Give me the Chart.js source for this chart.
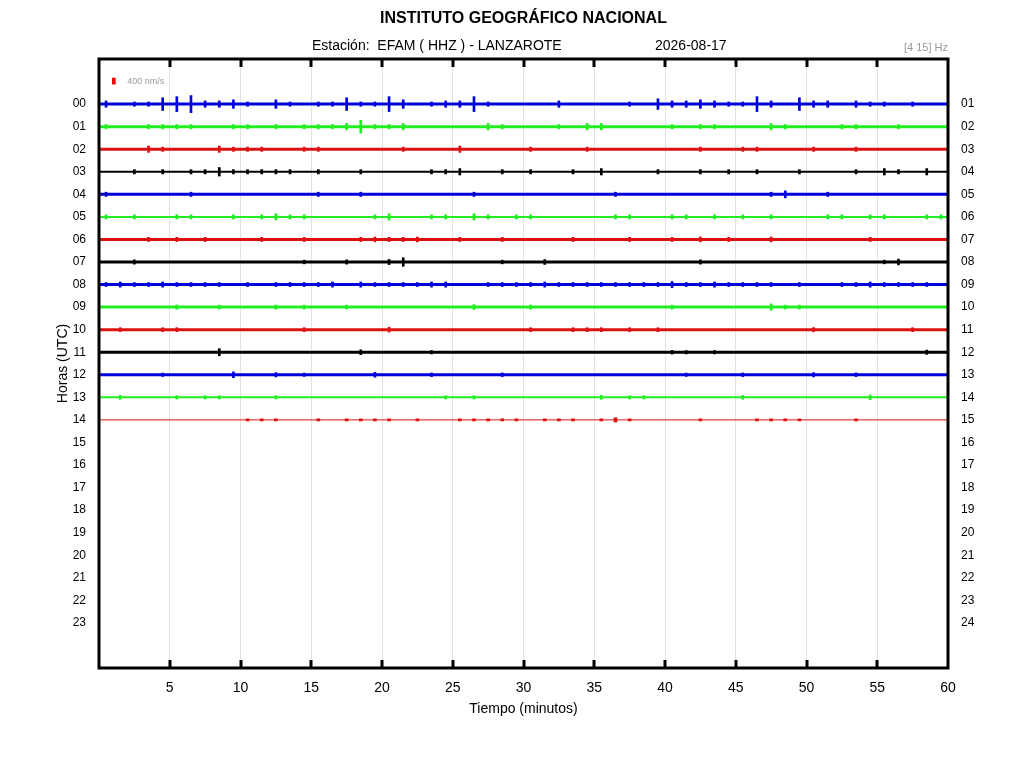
<!DOCTYPE html>
<html lang="es">
<head>
  <meta charset="UTF-8" />
  <title>Helicorder EFAM - Lanzarote</title>
  <script src="https://cdn.jsdelivr.net/npm/chart.js"></script>
  <style>
    html, body { margin: 0; padding: 0; background: #fff; }
    #wrap { width: 1024px; height: 768px; }
  </style>
</head>
<body>
  <div id="wrap"><canvas id="heli" width="1024" height="768"></canvas></div>

  <script>
    // hour labels, left and right side of the drum
    const leftLabels = ['00','01','02','03','04','05','06','07','08','09','10','11',
                        '12','13','14','15','16','17','18','19','20','21','22','23'];
    const rightLabels = ['01','02','03','04','05','06','07','08','09','10','11','12',
                         '13','14','15','16','17','18','19','20','21','22','23','24'];
    const minuteTicks = [5, 10, 15, 20, 25, 30, 35, 40, 45, 50, 55, 60];

    // peak amplitude per minute (nm/s), one array per hour line
    const amp00 = [210,100,140,140,420,490,560,210,210,280,140,100,280,140,100,140,140,420,140,140,490,280,100,140,210,210,490,140,100,100,
                   100,100,210,100,100,100,100,140,100,350,210,210,280,210,140,140,490,210,100,420,210,210,100,210,140,140,100,140,100,100];
    const amp01 = [140,100,100,140,140,140,140,100,100,140,140,100,140,100,140,140,140,210,420,140,140,210,100,100,100,100,100,210,140,100,
                   100,100,140,100,210,210,100,100,100,100,140,100,140,140,100,100,100,210,140,100,100,100,140,140,100,100,140,100,100,100];
    const amp02 = [100,100,100,210,140,100,100,100,210,140,140,140,100,100,140,140,100,100,100,100,100,140,100,100,100,210,100,100,100,100,
                   140,100,100,100,140,100,100,100,100,100,100,100,140,100,100,140,140,100,100,100,140,100,100,140,100,100,100,100,100,100];
    const amp03 = [0,0,140,0,140,0,140,140,280,140,140,140,140,140,0,140,0,0,140,0,0,0,0,140,140,210,0,0,140,0,
                   140,0,0,140,0,210,0,0,0,140,0,0,140,0,140,0,140,0,0,140,0,0,0,140,0,210,140,0,210,0];
    const amp04 = [140,100,100,100,100,100,140,100,100,100,100,100,100,100,100,140,100,100,140,100,100,100,100,100,100,100,140,100,100,100,
                   100,100,100,100,100,100,140,100,100,100,100,100,100,100,100,100,100,140,230,100,100,140,100,100,100,100,100,100,100,100];
    const amp05 = [140,0,140,0,0,140,140,0,0,140,0,140,210,140,140,0,0,0,0,140,210,0,0,140,140,0,210,140,0,140,
                   140,0,0,0,0,0,140,140,0,0,140,140,0,140,0,140,0,140,0,0,0,140,140,0,140,140,0,0,140,140];
    const amp06 = [100,100,100,140,100,140,100,140,100,100,100,140,100,100,140,100,100,100,140,160,140,140,160,100,100,140,100,100,140,100,
                   100,100,100,140,100,100,100,140,100,100,140,100,160,100,140,100,100,160,100,100,100,100,100,100,140,100,100,100,100,100];
    const amp07 = [100,100,140,100,100,100,100,100,100,100,100,100,100,100,120,100,100,140,100,100,170,280,100,100,100,100,100,100,120,100,
                   100,160,100,100,100,100,100,100,100,100,100,100,140,100,100,100,100,100,100,100,100,100,100,100,100,120,190,100,100,100];
    const amp08 = [130,170,130,130,170,130,130,130,130,0,130,0,130,130,130,130,170,0,170,130,130,130,130,170,170,0,0,130,130,130,
                   130,170,130,130,130,130,130,130,130,130,200,130,130,170,130,130,130,130,0,130,0,0,130,130,170,130,130,130,130,0];
    const amp09 = [100,100,100,100,100,140,100,100,130,100,100,100,140,100,130,100,100,130,100,100,100,100,100,100,100,100,160,100,100,100,
                   140,100,100,100,100,100,100,100,100,100,130,100,100,100,100,100,100,210,130,130,100,100,100,100,100,100,100,100,100,100];
    const amp10 = [100,130,100,100,130,130,100,100,100,100,100,100,100,100,130,100,100,100,100,100,160,100,100,100,100,100,100,100,100,100,
                   130,100,100,130,130,130,100,130,100,130,100,100,100,100,100,100,100,100,100,100,140,100,100,100,100,100,100,130,100,100];
    const amp11 = [100,100,100,100,100,100,100,100,230,100,100,100,100,100,100,100,100,100,160,100,100,100,100,110,100,100,100,100,100,100,
                   100,100,100,100,100,100,100,100,100,100,120,110,100,110,100,100,100,100,100,100,100,100,100,100,100,100,100,100,140,100];
    const amp12 = [100,100,100,100,110,100,100,100,100,190,100,100,140,100,110,100,100,100,100,160,100,100,100,120,100,100,100,100,120,100,
                   100,100,100,100,100,100,100,100,100,100,100,110,100,100,100,120,100,100,100,100,140,100,100,120,100,100,100,100,100,100];
    const amp13 = [0,130,0,0,0,110,0,110,110,0,0,0,110,0,0,0,0,0,0,0,0,0,0,0,110,0,110,0,0,0,
                   0,0,0,0,0,130,0,110,110,0,0,0,0,0,0,130,0,0,0,0,0,0,0,0,150,0,0,0,0,0];
    const amp14 = [50,50,50,50,50,50,50,50,50,50,70,70,70,50,50,70,50,70,70,70,70,50,70,50,50,70,70,70,70,70,
                   50,70,70,70,50,70,140,70,50,50,50,50,70,50,50,50,70,70,70,70,50,50,50,70,50,50,0,0,0,0];

    const scaleBarNms = 400;

    const traces = [amp00, amp01, amp02, amp03, amp04, amp05, amp06, amp07,
                    amp08, amp09, amp10, amp11, amp12, amp13, amp14];
    const traceColors = ['#0000dd', '#22ee22', '#dd1111', '#000000'];
    const rowsPerNms = 0.27 / 400;   // trace gain: 400 nm/s ~ 6 px
    const noiseNms = 100;            // background level, drawn as the thick baseline

    const datasets = [];
    traces.forEach((amps, row) => {
      const color = traceColors[row % 4];
      const last = row === traces.length - 1;
      const noisy = amps.filter(a => a >= noiseNms).length > 40;
      // baseline of the hour line
      datasets.push({
        type: 'line',
        data: [{ x: 0, y: row }, { x: 60, y: row }],
        borderColor: color,
        borderWidth: last ? 1 : (noisy ? 3 : 2),
        pointRadius: 0,
        yAxisID: 'y'
      });
      // events above the background (the last, thin line has a lower background)
      const limit = last ? noiseNms / 2 : noiseNms;
      datasets.push({
        type: 'bar',
        data: amps.map((a, m) => ({ x: m + 0.5, y: [row - a * rowsPerNms, row + a * rowsPerNms] }))
                  .filter((p, m) => amps[m] > limit),
        backgroundColor: color,
        borderWidth: 0,
        barThickness: last ? 3 : 2,
        grouped: false,
        yAxisID: 'y'
      });
    });

    // amplitude scale mark (top left)
    datasets.push({
      type: 'bar',
      data: [{ x: 1.05, y: [-1.02 - scaleBarNms * rowsPerNms / 2, -1.02 + scaleBarNms * rowsPerNms / 2] }],
      backgroundColor: '#ee0000',
      borderWidth: 0,
      barThickness: 3,
      grouped: false,
      yAxisID: 'y'
    });

    const decor = {
      id: 'decor',
      afterDraw(chart) {
        const { ctx, chartArea: a, scales } = chart;
        const xs = scales.x;
        ctx.save();

        // frame
        ctx.strokeStyle = '#000';
        ctx.lineWidth = 3;
        ctx.strokeRect(a.left, a.top, a.right - a.left, a.bottom - a.top);

        // inner tick marks top and bottom
        ctx.lineWidth = 3;
        minuteTicks.slice(0, -1).forEach(v => {
          const px = Math.round(xs.getPixelForValue(v));
          ctx.beginPath();
          ctx.moveTo(px, a.top); ctx.lineTo(px, a.top + 8);
          ctx.moveTo(px, a.bottom); ctx.lineTo(px, a.bottom - 8);
          ctx.stroke();
        });

        const mid = (a.left + a.right) / 2;
        ctx.fillStyle = '#000';
        ctx.textBaseline = 'middle';

        ctx.font = 'bold 16px "Liberation Sans", Arial, sans-serif';
        ctx.textAlign = 'center';
        ctx.fillText('INSTITUTO GEOGRÁFICO NACIONAL', mid, 19);

        ctx.font = '14px "Liberation Sans", Arial, sans-serif';
        ctx.textAlign = 'left';
        ctx.fillText('Estación:  EFAM ( HHZ ) - LANZAROTE', 312, 46);
        ctx.fillText('2026-08-17', 655, 46);

        ctx.fillStyle = '#999';
        ctx.font = '11px "Liberation Sans", Arial, sans-serif';
        ctx.textAlign = 'right';
        ctx.fillText('[4 15] Hz', a.right, 48);

        ctx.font = '9px "Liberation Sans", Arial, sans-serif';
        ctx.textAlign = 'left';
        ctx.fillText(scaleBarNms + ' nm/s', xs.getPixelForValue(2), scales.y.getPixelForValue(-1.02));

        ctx.fillStyle = '#000';
        ctx.font = '14px "Liberation Sans", Arial, sans-serif';
        ctx.textAlign = 'center';
        ctx.fillText('Tiempo (minutos)', mid, 709);

        ctx.translate(63, (a.top + a.bottom) / 2);
        ctx.rotate(-Math.PI / 2);
        ctx.fillText('Horas (UTC)', 0, 0);

        ctx.restore();
      }
    };

    const rowTicks = scale => {
      scale.ticks = leftLabels.map((l, i) => ({ value: i }));
    };

    new Chart(document.getElementById('heli'), {
      data: { datasets },
      options: {
        responsive: false,
        animation: false,
        devicePixelRatio: 1,
        layout: { padding: { top: 59, left: 0, right: 0, bottom: 0 } },
        plugins: { legend: { display: false }, tooltip: { enabled: false }, title: { display: false } },
        scales: {
          x: {
            type: 'linear',
            min: 0,
            max: 60,
            offset: false,
            afterBuildTicks: s => { s.ticks = minuteTicks.map(v => ({ value: v })); },
            afterFit: s => { s.height = 100; },
            grid: { color: '#e2e2e2', lineWidth: 1, drawTicks: false, offset: false },
            border: { display: false },
            ticks: {
              color: '#000',
              padding: 12,
              maxRotation: 0,
              font: { family: '"Liberation Sans", Arial, sans-serif', size: 14 }
            }
          },
          y: {
            type: 'linear',
            position: 'left',
            reverse: true,
            min: -2,
            max: 25,
            afterBuildTicks: rowTicks,
            afterFit: s => { s.width = 99; },
            grid: { display: false },
            border: { display: false },
            ticks: {
              color: '#000',
              padding: 5,
              callback: v => leftLabels[v],
              font: { family: '"Liberation Sans", Arial, sans-serif', size: 12 }
            }
          },
          y2: {
            type: 'linear',
            position: 'right',
            reverse: true,
            min: -2,
            max: 25,
            afterBuildTicks: rowTicks,
            afterFit: s => { s.width = 76; },
            grid: { display: false },
            border: { display: false },
            ticks: {
              color: '#000',
              padding: 5,
              callback: v => rightLabels[v],
              font: { family: '"Liberation Sans", Arial, sans-serif', size: 12 }
            }
          }
        }
      },
      plugins: [decor]
    });
  </script>
</body>
</html>
